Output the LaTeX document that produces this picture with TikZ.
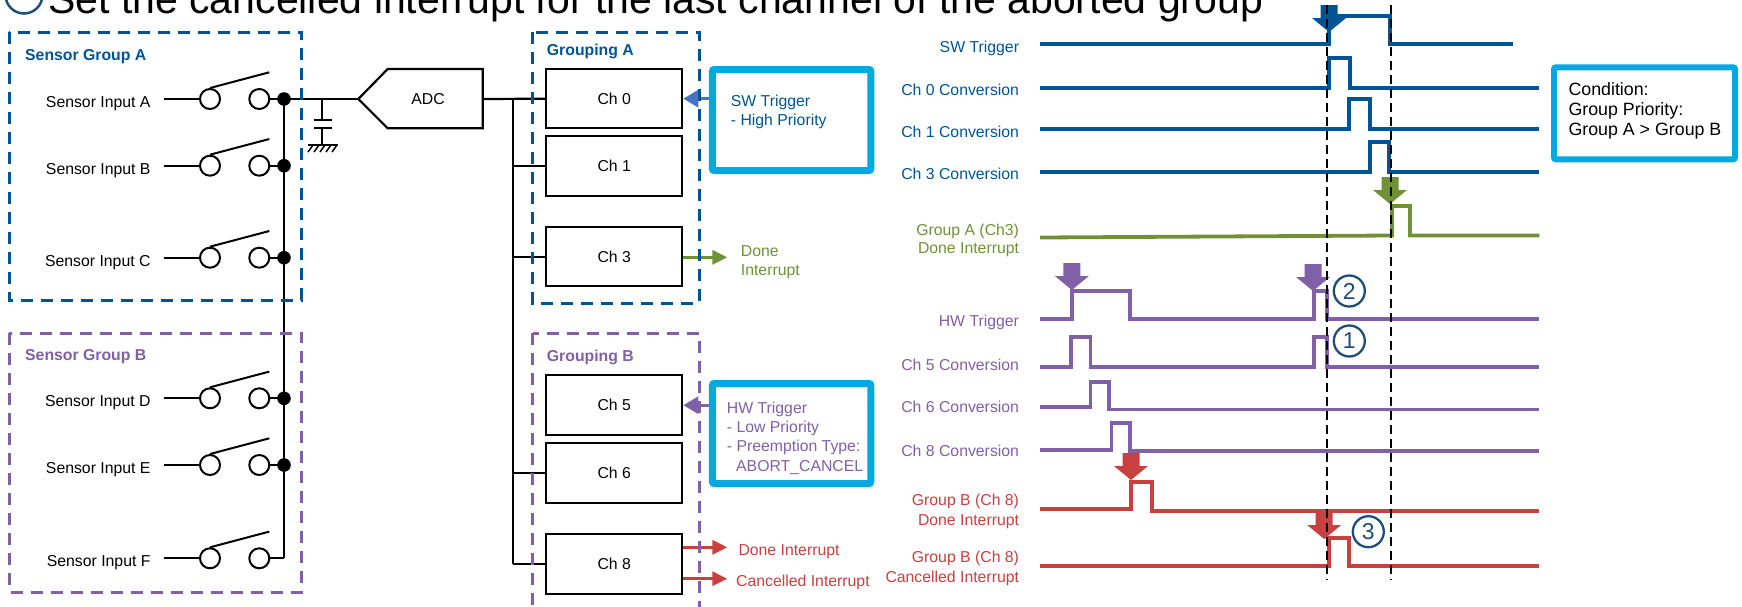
\documentclass[tikz,border=0pt]{standalone}
\usepackage{fontspec}
\setmainfont{Liberation Sans}
\usetikzlibrary{arrows.meta,calc}
\definecolor{blueA}{RGB}{0,84,147}
\definecolor{purpB}{RGB}{128,96,166}
\definecolor{greenC}{RGB}{113,145,55}
\definecolor{redD}{RGB}{200,64,64}
\definecolor{cyanE}{RGB}{0,169,224}
\definecolor{arrBlue}{RGB}{68,114,196}
\definecolor{numBlue}{RGB}{31,78,121}
\newcommand\fsz[1]{\fontsize{#1}{#1}\selectfont}
\begin{document}
\begin{tikzpicture}[x=1pt,y=-1pt,
  every node/.style={inner sep=0pt},
  lbl/.style={font=\fsz{15.8}},
  bold/.style={font=\fsz{15.8}\bfseries},
  wire/.style={line width=2.2pt},
  swc/.style={circle,draw,line width=2pt,minimum size=20pt,fill=white},
  chbox/.style={draw,line width=2pt,minimum width=136.3pt,minimum height=59.5pt,font=\fsz{15.8}},
  grpbox/.style={line width=3pt,dash pattern=on 12pt off 8pt},
  cyanbox/.style={draw=cyanE,line width=7pt,rounded corners=2pt},
  sig/.style={line width=3.8pt,line join=miter},
  vdash/.style={line width=2pt,dash pattern=on 9pt off 5pt},
  trig/.style={line width=3pt,-{Triangle[length=15pt,width=17pt]}},
  outarr/.style={line width=3pt,-{Triangle[length=15pt,width=14pt]}},
  numc/.style={circle,draw=numBlue,line width=2.3pt,minimum size=31pt,text=numBlue,font=\fsz{23}},
  dnarr/.pic={\fill (-8.5,0) -- (8.5,0) -- (8.5,13) -- (17,13) -- (0,27) -- (-17,13) -- (-8.5,13) -- cycle;}
]
\useasboundingbox (0,0) rectangle (1742,606);
\clip (0,0) rectangle (1742,606);

% ---------- title (cut at the top) ----------
\node[anchor=base west,font=\fsz{41}] (title) at (48,13) {Set the cancelled interrupt for the last channel of the aborted group};
\node[circle,draw=numBlue,line width=2.5pt,minimum size=37pt] (tnum) at (24,-5) {};

% ---------- sensor switches ----------
\foreach \n/\yy/\t in {a/99/A, b/165.7/B, c/257.7/C, d/398.3/D, e/465/E, f/558.3/F} {
  \node[lbl,anchor=base east] (t\n) at (150.7,{\yy+8.3}) {Sensor Input \t};
  \coordinate (s\n) at (164,\yy);
  \node[swc] (l\n) at (210,\yy) {};
  \node[swc] (r\n) at (259.3,\yy) {};
  \coordinate (v\n) at (269.3,{\yy-26.7});
  \coordinate (j\n) at (284,\yy);
  \draw[wire] (s\n) -- (l\n.west);
  \draw[line width=2pt] (l\n.north) -- (v\n);
  \draw[wire] (r\n.east) -- (j\n);
}
\draw[wire] (ja) -- (jf);
\foreach \n in {a,b,c,d,e} \fill (j\n) circle (6.8pt);

% ---------- capacitor ----------
\coordinate (adctip) at (358.3,99);
\coordinate (cap) at (322.3,99);
\draw[wire] (ja) -- (adctip);
\draw[wire] (cap) -- (322.3,120);
\draw[wire] (314.3,120) -- (331.7,120);
\draw[wire] (314.3,128.3) -- (331.7,128.3);
\draw[wire] (322.3,128.3) -- (322.3,145);
\draw[wire] (308.3,145) -- (337.7,145);
\foreach \hx in {313,319,325,331,337} \draw[line width=1.5pt] (\hx,145) -- ({\hx-5},152);

% ---------- ADC ----------
\draw[wire,line join=miter] (adctip) -- (387.7,69) -- (482.7,69) -- (482.7,128.3) -- (387.7,128.3) -- cycle;
\node[lbl] (adc) at (428,99) {ADC};
\coordinate (adcout) at (482.7,99);

% ---------- channels ----------
\node[chbox] (ch0) at (614.2,98.7) {Ch 0};
\node[chbox] (ch1) at (614.2,166.2) {Ch 1};
\node[chbox] (ch3) at (614.2,256.7) {Ch 3};
\node[chbox] (ch5) at (614.2,405.2) {Ch 5};
\node[chbox] (ch6) at (614.2,473) {Ch 6};
\node[chbox] (ch8) at (614.2,564.2) {Ch 8};
\coordinate (busT) at (513.3,99);
\draw[wire] (adcout) -- (ch0.west);
\draw[wire] (busT) -- (busT |- ch8.west);
\foreach \c in {ch1,ch3,ch6,ch8} \draw[wire] (busT |- \c.west) -- (\c.west);

% ---------- outputs ----------
\coordinate (g3) at (727.3,257.3);
\draw[outarr,greenC] (ch3.east |- g3) -- (g3);
\node[lbl,anchor=base west,text=greenC] (g3a) at (740.7,256.4) {Done};
\node[lbl,anchor=base west,text=greenC] (g3b) at (740.7,275) {Interrupt};
\coordinate (d8) at (727.3,547.3);
\coordinate (c8) at (727.3,578.7);
\draw[outarr,redD] (ch8.east |- d8) -- (d8);
\draw[outarr,redD] (ch8.east |- c8) -- (c8);
\node[lbl,anchor=base west,text=redD] (d8t) at (738.3,555.7) {Done Interrupt};
\node[lbl,anchor=base west,text=redD] (c8t) at (736,586.7) {Cancelled Interrupt};

% ---------- trigger boxes ----------
\node[cyanbox,minimum width=158.5pt,minimum height=101pt] (swbox) at (791.6,120) {};
\node[cyanbox,minimum width=158.5pt,minimum height=100pt] (hwbox) at (791.6,433.5) {};
\draw[trig,arrBlue] (swbox.west |- ch0.east) -- (ch0.east);
\draw[trig,purpB] (hwbox.west |- ch5.east) -- (ch5.east);
\node[lbl,anchor=base west,text=blueA] (sw1) at (730.7,106) {SW Trigger};
\node[lbl,anchor=base west,text=blueA] (sw2) at (730.7,125) {- High Priority};
\node[lbl,anchor=base west,text=purpB] (hw1) at (726.7,413) {HW Trigger};
\node[lbl,anchor=base west,text=purpB] (hw2) at (726.7,432.4) {- Low Priority};
\node[lbl,anchor=base west,text=purpB] (hw3) at (726.7,451.7) {- Preemption Type:};
\node[lbl,anchor=base west,text=purpB] (hw4) at (736,471) {ABORT\_CANCEL};

% ---------- condition box ----------
\node[cyanbox,line width=6pt,minimum width=181pt,minimum height=92pt] (cond) at (1644.5,113.3) {};
\node[font=\fsz{17.8},anchor=base west] (cd1) at (1568.3,95) {Condition:};
\node[font=\fsz{17.8},anchor=base west] (cd2) at (1568.3,115) {Group Priority:};
\node[font=\fsz{17.8},anchor=base west] (cd3) at (1568.3,135) {Group A > Group B};

% ---------- group frames ----------
\draw[grpbox,blueA] (9.3,32) rectangle (301.7,300);
\draw[grpbox,purpB] (9.3,333.3) rectangle (301.7,592);
\draw[grpbox,blueA] (532.5,32) rectangle (699,303.3);
\draw[grpbox,purpB] (532.5,333.3) rectangle (699,640);
\node[bold,anchor=base west,text=blueA] (sga) at (25,60) {Sensor Group A};
\node[bold,anchor=base west,text=purpB] (sgb) at (25,360) {Sensor Group B};
\node[bold,anchor=base west,text=blueA] (gpa) at (546.7,55.7) {Grouping A};
\node[bold,anchor=base west,text=purpB] (gpb) at (546.7,361.7) {Grouping B};

% ---------- timing labels ----------
\foreach \yy/\c/\t in {52.4/blueA/SW Trigger, 95/blueA/Ch 0 Conversion, 137.4/blueA/Ch 1 Conversion, 179/blueA/Ch 3 Conversion,
  235/greenC/Group A (Ch3), 253/greenC/Done Interrupt, 326.4/purpB/HW Trigger, 370.7/purpB/Ch 5 Conversion,
  412.4/purpB/Ch 6 Conversion, 456.4/purpB/Ch 8 Conversion, 505.7/redD/Group B (Ch 8), 525/redD/Done Interrupt,
  562.4/redD/Group B (Ch 8), 582.4/redD/Cancelled Interrupt}
  \node[lbl,anchor=base east,text=\c] at (1019.2,\yy) {\t};

% ---------- waveforms ----------
\draw[sig,blueA] (1040.2,44.3) -- (1329.3,44.3) -- (1329.3,15.7) -- (1390,15.7) -- (1390,44.3) -- (1513.3,44.3);
\draw[sig,blueA] (1040.2,87.7) -- (1329.3,87.7) -- (1329.3,58.3) -- (1350,58.3) -- (1350,87.7) -- (1539.3,87.7);
\draw[sig,blueA] (1040.2,129.3) -- (1349.3,129.3) -- (1349.3,99.3) -- (1370,99.3) -- (1370,129.3) -- (1539.3,129.3);
\draw[sig,blueA] (1040.2,171.7) -- (1370,171.7) -- (1370,141.7) -- (1389,141.7) -- (1389,171.7) -- (1539.3,171.7);
\draw[sig,greenC] (1040.2,237.5) -- (1392,235.5) -- (1392,206) -- (1410,206) -- (1410,235.5) -- (1539.3,235.5);
\draw[sig,purpB] (1040.2,319.3) -- (1071.8,319.3) -- (1071.8,291) -- (1130,291) -- (1130,319.3) -- (1314.3,319.3) -- (1314.3,291) -- (1326.7,291) -- (1326.7,319.3) -- (1539.3,319.3);
\draw[sig,purpB] (1040.2,366.7) -- (1070.6,366.7) -- (1070.6,337.3) -- (1090.4,337.3) -- (1090.4,366.7) -- (1314.3,366.7) -- (1314.3,337.3) -- (1326.7,337.3) -- (1326.7,366.7) -- (1539.3,366.7);
\draw[sig,purpB] (1040.2,407) -- (1090.4,407) -- (1090.4,381.7) -- (1109,381.7) -- (1109,409.5) -- (1539.3,409.5);
\draw[sig,purpB] (1040.2,450) -- (1111.4,450) -- (1111.4,422.7) -- (1130,422.7) -- (1130,450.7) -- (1539.3,450.7);
\draw[sig,redD] (1040.2,509) -- (1131,509) -- (1131,482.3) -- (1151.7,482.3) -- (1151.7,510.7) -- (1539.3,510.7);
\draw[sig,redD] (1040.2,566) -- (1329.3,566) -- (1329.3,538.3) -- (1349.3,538.3) -- (1349.3,566) -- (1539.3,566);

% ---------- event arrows ----------
\pic[blueA] at (1329,5) {dnarr};
\pic[greenC] at (1390,177) {dnarr};
\pic[purpB] at (1071.8,263) {dnarr};
\pic[purpB] at (1313,264) {dnarr};
\pic[redD] at (1131,453) {dnarr};
\pic[redD] at (1324.2,512) {dnarr};

% ---------- markers ----------
\draw[vdash] (1326.7,5) -- (1326.7,580);
\draw[vdash] (1391.3,5) -- (1391.3,580);
\node[numc] (n2) at (1349.3,291) {2};
\node[numc] (n1) at (1349.3,341) {1};
\node[numc] (n3) at (1368.3,531.7) {3};
\end{tikzpicture}
\end{document}
